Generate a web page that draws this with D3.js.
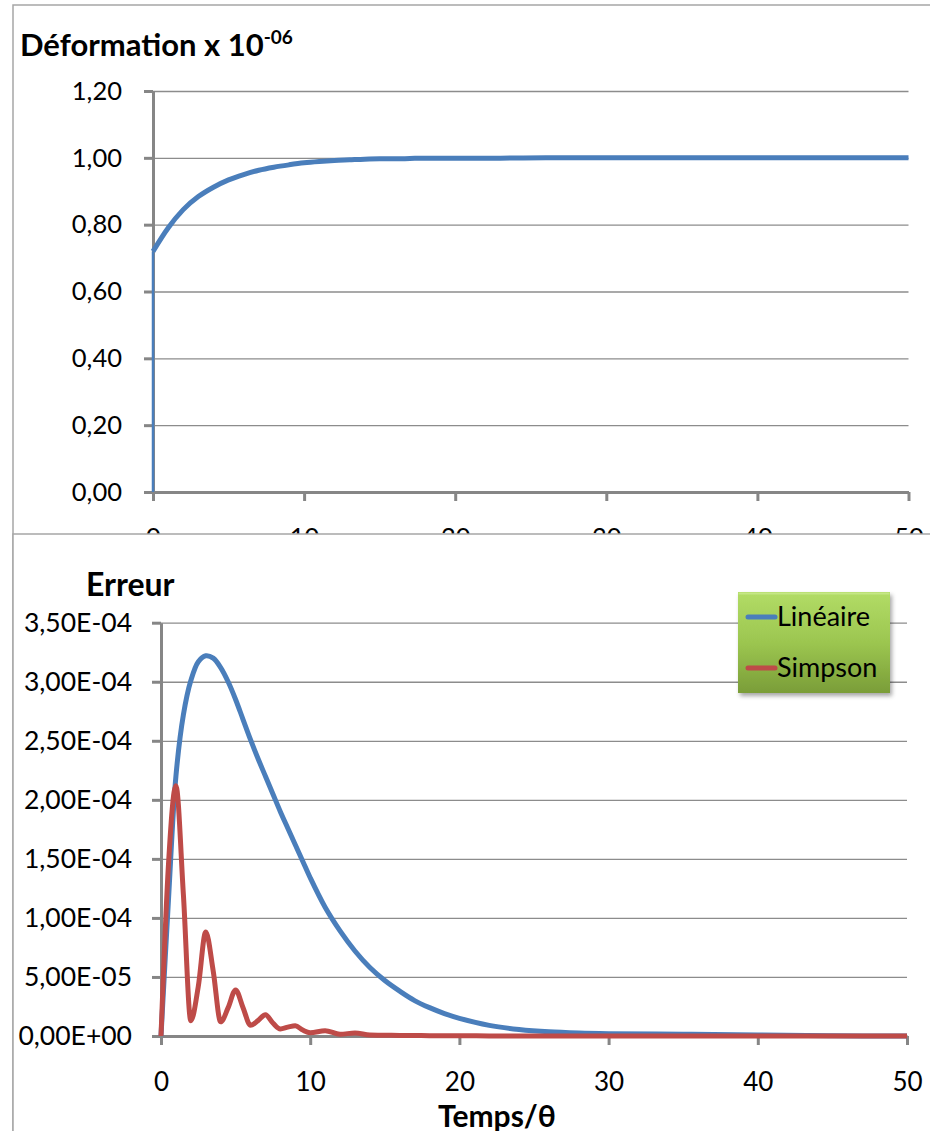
<!DOCTYPE html>
<html>
<head>
<meta charset="utf-8">
<script src="https://cdn.jsdelivr.net/npm/d3@7"></script>
<style>
  body { margin: 0; background: #fff; }
  svg { display: block; font-family: Lato, "Open Sans", sans-serif; }
  .axis path, .axis line { stroke: #868686; stroke-width: 3; }
  .grid line { stroke: #8c8c8c; stroke-width: 1.3; }
  .grid path { display: none; }
</style>
</head>
<body>
<div id="chart"></div>
<script>
// top chart : deformation (x 1e-6) vs time
const defT   = [0, 0, 1, 2, 3, 4, 5, 6, 7, 8, 9, 10, 11, 12, 13, 14, 15, 16, 17, 18, 20, 23, 26, 30, 40, 50];
const defVal = [0, 0.72, 0.79, 0.845, 0.884, 0.912, 0.934, 0.95, 0.963, 0.972, 0.979, 0.985, 0.989, 0.992,
                0.994, 0.996, 0.997, 0.997, 0.998, 0.999, 0.999, 0.999, 1.0, 1.0, 1.0, 1.0];
const defTicksY = [0, 0.2, 0.4, 0.6, 0.8, 1.0, 1.2];
const defLabelsY = ['0,00', '0,20', '0,40', '0,60', '0,80', '1,00', '1,20'];

// bottom chart : error of both integration schemes
const errT = [0, 0.5, 1, 1.5, 2, 2.5, 3, 3.5, 4, 4.5, 5, 5.5, 6, 6.5, 7, 7.5, 8, 8.5, 9, 9.5, 10,
              11, 12, 13, 14, 15, 16, 17, 18, 19, 20, 22, 24, 26, 28, 30, 35, 40, 45, 50];
const errLin = [0, 1.15, 2.2, 2.72, 3.01, 3.17, 3.22, 3.2, 3.12, 3.0, 2.85, 2.68, 2.51, 2.35, 2.2, 2.05,
                1.9, 1.76, 1.62, 1.48, 1.34, 1.09, 0.89, 0.72, 0.58, 0.47, 0.38, 0.3, 0.24, 0.19, 0.15,
                0.09, 0.055, 0.035, 0.025, 0.02, 0.015, 0.008, 0.002, 0].map(v => v * 1e-4);
const errSimp = [0, 1.45, 2.12, 1.2, 0.13, 0.42, 0.88, 0.55, 0.12, 0.24, 0.39, 0.24, 0.09, 0.13, 0.18, 0.11,
                 0.06, 0.075, 0.087, 0.05, 0.028, 0.045, 0.015, 0.025, 0.008, 0.006, 0.005, 0.004, 0.003,
                 0.003, 0.002, 0.001, 0.001, 0, 0, 0, 0, 0, 0, 0].map(v => v * 1e-4);
const errTicksY = [0, 0.5e-4, 1e-4, 1.5e-4, 2e-4, 2.5e-4, 3e-4, 3.5e-4];
const errLabelsY = ['0,00E+00', '5,00E-05', '1,00E-04', '1,50E-04', '2,00E-04', '2,50E-04', '3,00E-04', '3,50E-04'];
const ticksX = [0, 10, 20, 30, 40, 50];
const seriesNames = ['Linéaire', 'Simpson'];
const seriesColors = ['#4a7ebb', '#be4b48'];

const width = 930, height = 1131;
const svg = d3.select('#chart').append('svg')
  .attr('width', width)
  .attr('height', height);

const defs = svg.append('defs');
const grad = defs.append('linearGradient').attr('id', 'legGrad')
  .attr('x1', 0).attr('y1', 0).attr('x2', 0).attr('y2', 1);
grad.append('stop').attr('offset', '0%').attr('stop-color', '#b2dc66');
grad.append('stop').attr('offset', '50%').attr('stop-color', '#9cc650');
grad.append('stop').attr('offset', '100%').attr('stop-color', '#7a9d38');
defs.append('filter').attr('id', 'shadow')
  .attr('x', '-10%').attr('y', '-10%').attr('width', '130%').attr('height', '130%')
  .append('feDropShadow')
  .attr('dx', 2).attr('dy', 3).attr('stdDeviation', 2)
  .attr('flood-color', '#000').attr('flood-opacity', 0.35);

// ---------- top panel ----------
svg.append('rect')
  .attr('x', 13).attr('y', 5).attr('width', 940).attr('height', 1140)
  .attr('fill', '#fff').attr('stroke', '#a6a6a6').attr('stroke-width', 1.5);

const xTop = d3.scaleLinear().domain([0, 50]).range([153, 908.5]);
const yTop = d3.scaleLinear().domain([0, 1.2]).range([492, 91]);

svg.append('g')
  .attr('class', 'grid')
  .attr('transform', `translate(${xTop(0)},0)`)
  .call(d3.axisLeft(yTop).tickValues(defTicksY.slice(1)).tickFormat('')
    .tickSize(-(xTop(50) - xTop(0))));

svg.append('g')
  .attr('class', 'axis')
  .attr('transform', `translate(0,${yTop(0)})`)
  .call(d3.axisBottom(xTop).tickValues(ticksX).tickSize(9).tickSizeOuter(0).tickPadding(27))
  .selectAll('text').attr('font-size', 25.5).attr('fill', '#000');

svg.append('g')
  .attr('class', 'axis')
  .attr('transform', `translate(${xTop(0)},0)`)
  .call(d3.axisLeft(yTop).tickValues(defTicksY).tickFormat((d, i) => defLabelsY[i])
    .tickSize(9).tickSizeOuter(0).tickPadding(22))
  .selectAll('text').attr('font-size', 25.5).attr('fill', '#000');

svg.selectAll('.axis text').attr('font-family', 'Lato');

// jump at t = 0 is a straight segment, the rest is smoothed
const defPts = defT.map((t, i) => [t, defVal[i]]);
const topLine = d3.line().x(d => xTop(d[0])).y(d => yTop(d[1]));
svg.append('path')
  .attr('fill', 'none')
  .attr('stroke', seriesColors[0])
  .attr('stroke-width', 2.5)
  .attr('d', topLine(defPts.slice(0, 2)));
svg.append('path')
  .attr('fill', 'none')
  .attr('stroke', seriesColors[0])
  .attr('stroke-width', 5)
  .attr('stroke-linejoin', 'round')
  .attr('d', topLine.curve(d3.curveMonotoneX)(defPts.slice(1)));

const topTitle = svg.append('text')
  .attr('x', 20).attr('y', 56)
  .attr('font-size', 31).attr('font-weight', 'bold')
  .text('Déformation x 10');
topTitle.append('tspan')
  .attr('dy', -12).attr('font-size', 19)
  .text('-06');

// ---------- bottom panel ----------
svg.append('rect')
  .attr('x', 13).attr('y', 534).attr('width', 940).attr('height', 620)
  .attr('fill', '#fff').attr('stroke', '#a6a6a6').attr('stroke-width', 1.5);

const xErr = d3.scaleLinear().domain([0, 50]).range([161, 907]);
const yErr = d3.scaleLinear().domain([0, 3.5e-4]).range([1036, 622.7]);

svg.append('g')
  .attr('class', 'grid')
  .attr('transform', `translate(${xErr(0)},0)`)
  .call(d3.axisLeft(yErr).tickValues(errTicksY.slice(1)).tickFormat('')
    .tickSize(-(xErr(50) - xErr(0))));

const bx = svg.append('g')
  .attr('class', 'axis')
  .attr('transform', `translate(0,${yErr(0)})`)
  .call(d3.axisBottom(xErr).tickValues(ticksX).tickSize(9).tickSizeOuter(0).tickPadding(28));
bx.selectAll('text').attr('font-size', 26).attr('fill', '#000');

const by = svg.append('g')
  .attr('class', 'axis')
  .attr('transform', `translate(${xErr(0)},0)`)
  .call(d3.axisLeft(yErr).tickValues(errTicksY).tickFormat((d, i) => errLabelsY[i])
    .tickSize(9).tickSizeOuter(0).tickPadding(20));
by.selectAll('text').attr('font-size', 26.5).attr('fill', '#000');

svg.selectAll('.axis text').attr('font-family', 'Lato');

const errSeries = [errLin, errSimp];
const errCurves = [d3.curveCatmullRom.alpha(0.5), d3.curveMonotoneX];
errSeries.forEach((vals, k) => {
  svg.append('path')
    .datum(errT.map((t, i) => [t, vals[i]]))
    .attr('fill', 'none')
    .attr('stroke', seriesColors[k])
    .attr('stroke-width', 5)
    .attr('stroke-linejoin', 'round')
    .attr('d', d3.line()
      .x(d => xErr(d[0]))
      .y(d => yErr(d[1]))
      .curve(errCurves[k]));
});

svg.append('text')
  .attr('x', 86).attr('y', 596)
  .attr('font-size', 32).attr('font-weight', 'bold')
  .text('Erreur');

svg.append('text')
  .attr('x', 497).attr('y', 1127)
  .attr('text-anchor', 'middle')
  .attr('font-size', 30).attr('font-weight', 'bold')
  .text('Temps/θ');

// legend
const legend = svg.append('g').attr('transform', 'translate(738,592)');
legend.append('rect')
  .attr('width', 152).attr('height', 101)
  .attr('fill', 'url(#legGrad)')
  .attr('filter', 'url(#shadow)');
legend.append('rect')
  .attr('x', 0.5).attr('y', 0.5).attr('width', 151).attr('height', 2)
  .attr('fill', '#cdeb93').attr('opacity', 0.7);
seriesNames.forEach((name, i) => {
  const g = legend.append('g').attr('transform', `translate(0,${25 + i * 51})`);
  g.append('line')
    .attr('x1', 10).attr('x2', 37)
    .attr('stroke', seriesColors[i]).attr('stroke-width', 5).attr('stroke-linecap', 'round');
  g.append('text')
    .attr('x', 39).attr('y', 9)
    .attr('font-size', 27)
    .text(name);
});
</script>
</body>
</html>
